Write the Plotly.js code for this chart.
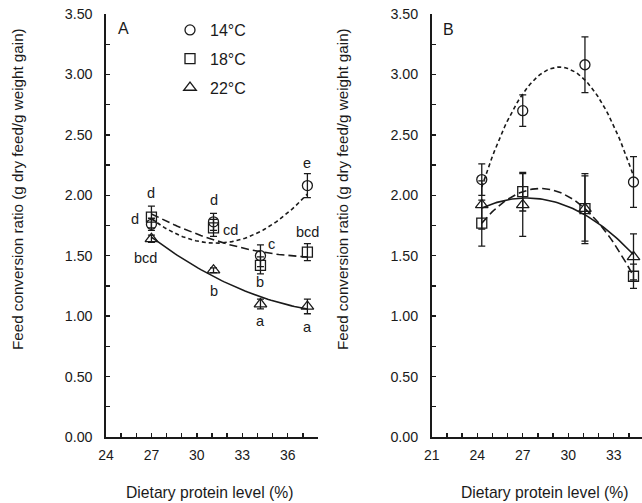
<!DOCTYPE html>
<html>
<head>
<meta charset="utf-8">
<script src="https://cdn.plot.ly/plotly-3.0.1.min.js"></script>
<style>html,body{margin:0;padding:0;background:#fff;}#chart{width:642px;height:503px;}</style>
</head>
<body>
<div id="chart"></div>
<script>
// ---- data ----
const tempLabels = ["14°C", "18°C", "22°C"];

// Panel A
const proteinA = [27.0, 31.1, 34.2, 37.3];
const fcrA14 = [1.76, 1.78, 1.50, 2.08];
const errA14 = [0.05, 0.07, 0.09, 0.10];
const fcrA18 = [1.82, 1.73, 1.42, 1.53];
const errA18 = [0.09, 0.07, 0.07, 0.07];
const fcrA22 = [1.64, 1.38, 1.10, 1.08];
const errA22 = [0.03, 0.02, 0.04, 0.06];

// Panel B
const proteinB = [24.3, 27.0, 31.1, 34.3];
const fcrB14 = [2.13, 2.70, 3.08, 2.11];
const errB14 = [0.13, 0.13, 0.23, 0.21];
const fcrB18 = [1.77, 2.03, 1.89, 1.33];
const errB18 = [0.19, 0.16, 0.29, 0.10];
const fcrB22 = [1.92, 1.92, 1.89, 1.49];
const errB22 = [0.20, 0.26, 0.27, 0.19];

// Significance letters (panel A)
const lettersA14 = ["d", "d", "c", "e"];
const lettersA18 = ["d", "cd", "b", "bcd"];
const lettersA22 = ["bcd", "b", "a", "a"];

// ---- helpers ----
function quadFit(xs, ys) {
  // least squares y = a + b x + c x^2
  let S = [[0,0,0],[0,0,0],[0,0,0]], T = [0,0,0];
  for (let i = 0; i < xs.length; i++) {
    const p = [1, xs[i], xs[i]*xs[i]];
    for (let r = 0; r < 3; r++) { T[r] += p[r]*ys[i]; for (let c = 0; c < 3; c++) S[r][c] += p[r]*p[c]; }
  }
  const M = S.map((row, i) => row.concat([T[i]]));
  for (let i = 0; i < 3; i++) {
    let piv = i;
    for (let k = i+1; k < 3; k++) if (Math.abs(M[k][i]) > Math.abs(M[piv][i])) piv = k;
    [M[i], M[piv]] = [M[piv], M[i]];
    for (let k = 0; k < 3; k++) if (k !== i) {
      const f = M[k][i] / M[i][i];
      for (let c = i; c < 4; c++) M[k][c] -= f*M[i][c];
    }
  }
  return [M[0][3]/M[0][0], M[1][3]/M[1][1], M[2][3]/M[2][2]];
}
function fitCurve(xs, ys) {
  const co = quadFit(xs, ys);
  const x0 = Math.min(...xs), x1 = Math.max(...xs);
  const cx = [], cy = [];
  for (let i = 0; i <= 60; i++) {
    const x = x0 + (x1 - x0) * i / 60;
    cx.push(x); cy.push(co[0] + co[1]*x + co[2]*x*x);
  }
  return {cx, cy};
}

const ink = "#1a1a1a";
const fontFam = "Liberation Sans, Arial, sans-serif";
const dashes = ["4px,3px", "8px,4px", "solid"];
const symbols = ["circle-open", "square-open", "triangle-up-open"];
const msize = [10, 10, 11];

const traces = [];
function addPanel(xs, series, errs, xa, ya, legend) {
  series.forEach((ys, i) => {
    const c = fitCurve(xs, ys);
    traces.push({x: c.cx, y: c.cy, xaxis: xa, yaxis: ya, mode: "lines", showlegend: false,
      line: {color: ink, width: 1.6, dash: dashes[i]}, hoverinfo: "skip"});
  });
  series.forEach((ys, i) => {
    traces.push({x: xs, y: ys, xaxis: xa, yaxis: ya, mode: "markers", name: tempLabels[i],
      showlegend: legend, legendgroup: "g" + i,
      marker: {symbol: symbols[i], size: msize[i], color: ink, line: {color: ink, width: 1.3}},
      error_y: {type: "data", array: errs[i], visible: true, color: ink, thickness: 1.3, width: 3.5}});
  });
}
addPanel(proteinA, [fcrA14, fcrA18, fcrA22], [errA14, errA18, errA22], "x", "y", true);
addPanel(proteinB, [fcrB14, fcrB18, fcrB22], [errB14, errB18, errB22], "x2", "y2", false);

// letter annotations (offsets in pixels from the marker)
const letterOffsets = {
  A14: [[-16, 5], [0, 22], [11, 12], [0, 23]],
  A18: [[0, 24], [17, -2], [0, -17], [0, 20]],
  A22: [[-6, -19], [0, -21], [0, -17], [0, -21]]
};
const annotations = [];
function addLetters(letters, ys, offs) {
  letters.forEach((t, i) => {
    annotations.push({x: proteinA[i], y: ys[i], xref: "x", yref: "y", text: t, showarrow: false,
      xanchor: "center", yanchor: "middle",
      xshift: offs[i][0], yshift: offs[i][1], font: {size: 14.5, color: ink, family: fontFam}});
  });
}
addLetters(lettersA14, fcrA14, letterOffsets.A14);
addLetters(lettersA18, fcrA18, letterOffsets.A18);
addLetters(lettersA22, fcrA22, letterOffsets.A22);

const W = 642, H = 503;
const yTop = 1 - 14 / H, yBot = 1 - 437 / H;
const ytitle = "Feed conversion ratio (g dry feed/g weight gain)";
const xtitle = "Dietary protein level (%)";
function paperNote(text, px, py, size, angle) {
  annotations.push({x: px/W, y: 1 - py/H, xref: "paper", yref: "paper", text: text, showarrow: false,
    xanchor: "center", yanchor: "middle", textangle: angle || 0,
    font: {size: size, color: ink, family: fontFam}});
}
paperNote(ytitle, 17, 189, 15.2, -90);
paperNote(ytitle, 342, 189, 15.2, -90);
paperNote(xtitle, 209, 492, 15.7);
paperNote(xtitle, 544, 492, 15.7);
paperNote("A", 123, 29, 16);
paperNote("B", 448, 30, 16);

function yax(anchor) {
  return {domain: [yBot, yTop], range: [0, 3.5], dtick: 0.5, tick0: 0, tickformat: ".2f",
    showline: true, linecolor: ink, linewidth: 1.6, ticks: "inside", ticklen: 4, tickwidth: 1.4, tickcolor: ink,
    minor: {dtick: 0.25, ticks: "inside", ticklen: 4, tickwidth: 1.4, tickcolor: ink},
    showgrid: false, zeroline: false, anchor: anchor, ticklabelstandoff: 9,
    tickfont: {size: 14.3, color: ink, family: fontFam}, fixedrange: true};
}
function xax(domain, range, anchor) {
  return {domain: domain, range: range, dtick: 3, tick0: 21,
    showline: true, linecolor: ink, linewidth: 1.6, ticks: "inside", ticklen: 4, tickwidth: 1.4, tickcolor: ink,
    minor: {dtick: 1, ticks: "inside", ticklen: 4, tickwidth: 1.4, tickcolor: ink},
    showgrid: false, zeroline: false, anchor: anchor, ticklabelstandoff: 5,
    tickfont: {size: 14, color: ink, family: fontFam}, fixedrange: true};
}

const layout = {
  width: W, height: H, margin: {l: 0, r: 0, t: 0, b: 0},
  paper_bgcolor: "#fff", plot_bgcolor: "rgba(0,0,0,0)",
  font: {family: fontFam, color: ink, size: 14},
  xaxis: xax([106/W, 318/W], [24, 38], "y"),
  yaxis: yax("x"),
  xaxis2: xax([431.7/W, 1], [21, 34.86], "y2"),
  yaxis2: yax("x2"),
  showlegend: true,
  legend: {x: 170/W, y: 1 - 13/H, xanchor: "left", yanchor: "top", bgcolor: "rgba(0,0,0,0)",
    borderwidth: 0, tracegroupgap: 5, font: {size: 16, color: ink, family: fontFam}},
  annotations: annotations
};

Plotly.newPlot("chart", traces, layout, {displayModeBar: false, staticPlot: true});
</script>
</body>
</html>
